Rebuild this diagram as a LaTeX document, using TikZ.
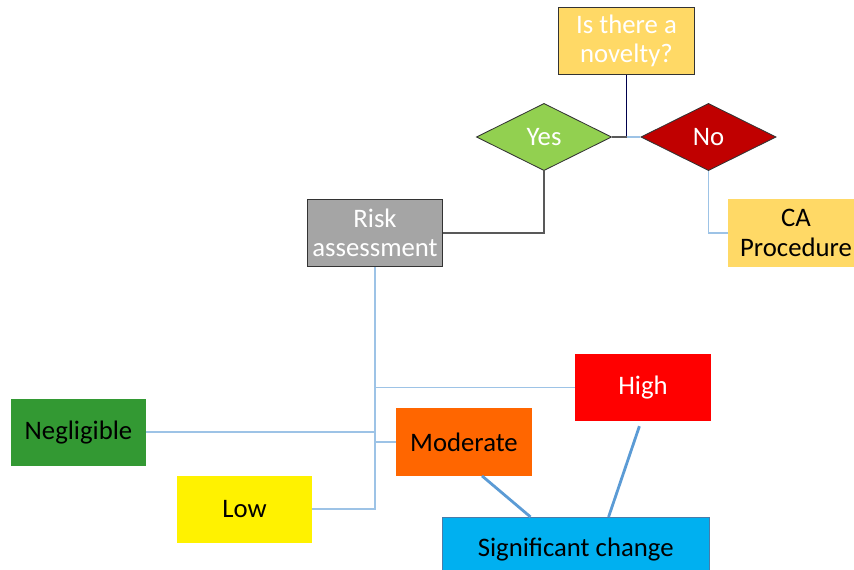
\documentclass[tikz,border=0pt]{standalone}
\usepackage{fontspec}
\setmainfont{Carlito}
\usepackage{xcolor}
\usepackage{tikz}
\usetikzlibrary{shapes.geometric, positioning}
\definecolor{novgold}{HTML}{FFD966}
\definecolor{yesgreen}{HTML}{92D050}
\definecolor{nored}{HTML}{C00000}
\definecolor{riskgrey}{HTML}{A5A5A5}
\definecolor{neggreen}{HTML}{339933}
\definecolor{modorange}{HTML}{FF6600}
\definecolor{sigblue}{HTML}{00B0F0}
\definecolor{linkblue}{HTML}{9DC3E6}
\definecolor{strongblue}{HTML}{5B9BD5}
\tikzstyle{box} = [rectangle, minimum width=3.38cm, minimum height=1.68cm, align=center, font=\fontsize{19}{21}\selectfont]
\tikzstyle{framed} = [box, draw=black!80, line width=0.8pt]
\tikzstyle{choice} = [diamond, aspect=2, draw=black!80, line width=0.6pt, minimum width=3.38cm, minimum height=1.68cm, inner sep=0pt, font=\fontsize{19}{21}\selectfont]
\tikzstyle{thinlink} = [linkblue, line width=1.3pt]
\tikzstyle{thicklink} = [strongblue, line width=2pt]

\begin{document}
\begin{tikzpicture}[x=0.025cm, y=-0.025cm]
  \useasboundingbox (0,0) rectangle (854,570);
  \node[framed, fill=novgold, text=white] (novelty) at (626.5,41) {Is there a\\novelty?};
  \node[choice, fill=yesgreen, text=white] (yes) at (544,137) {Yes};
  \node[choice, fill=nored, text=white] (no) at (708.5,137) {No};
  \node[framed, fill=riskgrey, text=white] (risk) at (375,233) {Risk\\assessment};
  \node[box, fill=novgold] (ca) at (796,233) {CA\\Procedure};
  \node[box, fill=red, text=white] (high) at (643,387.5) {High};
  \node[box, fill=neggreen] (negl) at (78.5,432.3) {Negligible};
  \node[box, fill=modorange] (mod) at (464,442) {Moderate};
  \node[box, fill=yellow] (low) at (244.5,509.3) {Low};
  \node[box, fill=sigblue, draw=strongblue!80!black, line width=0.6pt, minimum width=6.68cm, text depth=1.1ex] (sig) at (575.7,551) {Significant change};
  \draw[black!70!blue, line width=0.8pt] (novelty.south) -- (novelty.south |- yes.east);
  \draw[black!65, line width=0.8pt] (yes.east) -- (novelty.south |- yes.east);
  \draw[thinlink] (novelty.south |- no.west) -- (no.west);
  \draw[black!65, line width=0.8pt] (yes.south) |- (risk.east);
  \draw[thinlink] (no.south) |- (ca.west);
  % risk levels
  \draw[thinlink] (risk.south) |- (low.east);
  \draw[thinlink] (risk.south |- high.west) -- (high.west);
  \draw[thinlink] (negl.east) -- (risk.south |- negl.east);
  \draw[thinlink] (risk.south |- mod.west) -- (mod.west);
  \draw[thicklink] (mod.-62) -- (sig.143);
  \draw[thicklink, shorten <=3.6pt] ([xshift=-1.4pt]high.south) -- (sig.46);
\end{tikzpicture}
\end{document}
